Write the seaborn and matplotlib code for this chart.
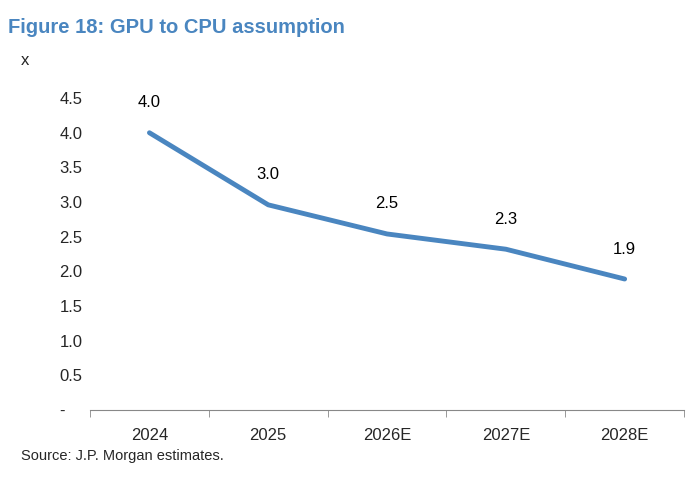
import matplotlib
matplotlib.use("Agg")
import matplotlib.pyplot as plt
import seaborn as sns
import pandas as pd

categories = ["2024", "2025", "2026E", "2027E", "2028E"]
values = [4.0, 2.96, 2.54, 2.32, 1.89]
labels = ["4.0", "3.0", "2.5", "2.3", "1.9"]
yticks = [0, 0.5, 1.0, 1.5, 2.0, 2.5, 3.0, 3.5, 4.0, 4.5]
yticklabels = ["-", "0.5", "1.0", "1.5", "2.0", "2.5", "3.0", "3.5", "4.0", "4.5"]

sns.set_style("white")
plt.rcParams['font.family'] = ['Liberation Sans', 'DejaVu Sans']

df = pd.DataFrame({"x": range(len(categories)), "y": values})
fig = plt.figure(figsize=(6.98, 4.98), dpi=100)
ax = fig.add_axes([0.129, 0.1767, 0.851, 0.6263])
sns.lineplot(data=df, x="x", y="y", ax=ax, color="#4a86c0", linewidth=3.5)
for i, (v, l) in enumerate(zip(values, labels)):
    ax.annotate(l, (i, v), xytext=(0, 30), textcoords="offset pixels",
                ha="center", va="center", fontsize=12, color="black")
ax.set_xlim(-0.5, len(categories) - 0.5)
ax.set_ylim(0, 4.5)
ax.set_yticks(yticks)
ax.set_yticklabels(yticklabels, fontsize=12)
ax.set_xticks(range(len(categories)))
ax.set_xticklabels(categories, fontsize=12)
ax.set_xticks([i - 0.5 for i in range(len(categories) + 1)], minor=True)
ax.tick_params(axis="x", which="major", length=0, pad=13)
ax.tick_params(axis="x", which="minor", length=5, color="#888888", direction="out", bottom=True)
ax.tick_params(axis="y", length=0, pad=22)
for yl in ax.get_yticklabels():
    yl.set_horizontalalignment("left")
for s in ["top", "right", "left"]:
    ax.spines[s].set_visible(False)
ax.spines["bottom"].set_color("#888888")
ax.set_xlabel("")
ax.set_ylabel("")
fig.text(0.012, 0.945, "Figure 18: GPU to CPU assumption", fontsize=14.5, fontweight="bold",
         color="#4a86c0", va="center")
fig.text(0.03, 0.878, "x", fontsize=12, va="center")
fig.text(0.03, 0.085, "Source: J.P. Morgan estimates.", fontsize=10.5, va="center")
fig.savefig("out.png", dpi=100)
